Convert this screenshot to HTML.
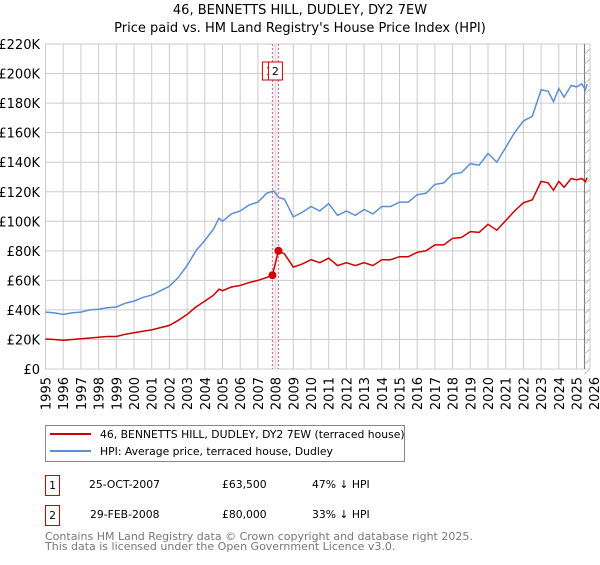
<!DOCTYPE html>
<html><head><meta charset="utf-8"><style>
body{margin:0;background:#fff;font-family:"Liberation Sans","DejaVu Sans",sans-serif}
</style></head><body>
<svg id="c" width="600" height="560" xmlns="http://www.w3.org/2000/svg" font-family="DejaVu Sans, Liberation Sans, sans-serif">
<text x="300" y="14" text-anchor="middle" font-size="13">46, BENNETTS HILL, DUDLEY, DY2 7EW</text>
<text x="300" y="32" text-anchor="middle" font-size="13">Price paid vs. HM Land Registry's House Price Index (HPI)</text>
<g id="grid"></g><g id="marks"></g>
<rect x="45.5" y="425.5" width="359" height="36" fill="#fff" stroke="#888"/>
<line x1="50" y1="434" x2="91" y2="434" stroke="#cc0000" stroke-width="2"/>
<text x="100" y="438" font-size="10.8">46, BENNETTS HILL, DUDLEY, DY2 7EW (terraced house)</text>
<line x1="50" y1="451" x2="91" y2="451" stroke="#5b8fd4" stroke-width="2"/>
<text x="100" y="455" font-size="10.8">HPI: Average price, terraced house, Dudley</text>
<g font-size="10.8">
<rect x="45.5" y="475.5" width="14" height="20" fill="#fff" stroke="#cc0000"/><text x="52.5" y="489" text-anchor="middle">1</text>
<text x="89" y="488">25-OCT-2007</text><text x="222" y="488">£63,500</text><text x="312" y="488">47% ↓ HPI</text></g>
<g font-size="10.8">
<rect x="45.5" y="505.5" width="14" height="20" fill="#fff" stroke="#cc0000"/><text x="52.5" y="519" text-anchor="middle">2</text>
<text x="90" y="518">29-FEB-2008</text><text x="222" y="518">£80,000</text><text x="312" y="518">33% ↓ HPI</text></g>
<text x="45" y="540" font-size="11" fill="#777">Contains HM Land Registry data © Crown copyright and database right 2025.</text>
<text x="45" y="550" font-size="11" fill="#777">This data is licensed under the Open Government Licence v3.0.</text>
</svg>
<script>
const yearTicks=[1995,1996,1997,1998,1999,2000,2001,2002,2003,2004,2005,2006,2007,2008,2009,2010,2011,2012,2013,2014,2015,2016,2017,2018,2019,2020,2021,2022,2023,2024,2025,2026];
const valueTicks=[0,20,40,60,80,100,120,140,160,180,200,220];
const hpiDates=[1995,1995.5,1996,1996.5,1997,1997.5,1998,1998.5,1999,1999.5,2000,2000.5,2001,2001.5,2002,2002.5,2003,2003.5,2004,2004.5,2004.8,2005,2005.5,2006,2006.5,2007,2007.5,2007.9,2008.2,2008.5,2009,2009.5,2010,2010.5,2011,2011.5,2012,2012.5,2013,2013.5,2014,2014.5,2015,2015.5,2016,2016.5,2017,2017.5,2018,2018.5,2019,2019.5,2020,2020.5,2021,2021.5,2022,2022.5,2023,2023.4,2023.7,2024,2024.3,2024.7,2025,2025.3,2025.5,2025.6];
const hpiValues=[38.5,38,37,38,38.5,40,40.5,41.5,42,44.5,46,48.5,50,53,56,62,70,80,87,95,102,100,105,107,111,113,119,120.5,116,115,103,106,110,107,112,104,107,104,108,105,110,110,113,113,118,119,125,126,132,133,139,138,146,140,150,160,168,171,189,188,181,190,184,192,191,193,189,193];
const priceDates=[1995,1995.5,1996,1996.5,1997,1997.5,1998,1998.5,1999,1999.5,2000,2000.5,2001,2001.5,2002,2002.5,2003,2003.5,2004,2004.5,2004.8,2005,2005.5,2006,2006.5,2007,2007.5,2007.82,2008.16,2008.5,2009,2009.5,2010,2010.5,2011,2011.5,2012,2012.5,2013,2013.5,2014,2014.5,2015,2015.5,2016,2016.5,2017,2017.5,2018,2018.5,2019,2019.5,2020,2020.5,2021,2021.5,2022,2022.5,2023,2023.4,2023.7,2024,2024.3,2024.7,2025,2025.3,2025.5,2025.6];
const priceValues=[20.3,20,19.5,20,20.5,21,21.5,22,22,23.5,24.5,25.5,26.5,28,29.5,33,37,42,46,50,54,53,55.5,56.5,58.5,60,62,63.5,80,78,69,71,74,72,75,70,72,70,72,70,74,74,76,76,79,80,84,84,88.5,89,93,92.5,98,94,100.5,107,112.5,114.5,127,126,121,127,123,129,128,129,127,129.5];
const saleDates=[2007.82,2008.16];
const saleValues=[63.5,80];
const saleLabels=["1","2"];
const NS="http://www.w3.org/2000/svg";
const X0=45.5,PX=17.7,Y0=369,PY=1.477,XR=590;
const xs=d=>X0+(d-1995)*PX, ys=v=>Y0-v*PY;
function mk(t,a,p){const e=document.createElementNS(NS,t);for(const k in a)e.setAttribute(k,a[k]);p.appendChild(e);return e;}
const g=document.getElementById('grid'),m=document.getElementById('marks');
mk('rect',{x:X0,y:ys(220),width:XR-X0,height:Y0-ys(220),fill:'#fff',stroke:'#ccc'},g);
valueTicks.forEach(v=>{mk('line',{x1:X0,x2:XR,y1:ys(v),y2:ys(v),stroke:'#ccc'},g);
 const t=mk('text',{x:40,y:ys(v)+5,'text-anchor':'end','font-size':13},g);t.textContent=v?'£'+v+'K':'£0';
 
 });
yearTicks.forEach(y=>{const x=xs(y);if(x<=XR)mk('line',{x1:x,x2:x,y1:ys(220),y2:Y0,stroke:'#ccc'},g);
 const t=mk('text',{x:0,y:0,'text-anchor':'end','font-size':13,transform:`translate(${x+5},${Y0+8}) rotate(-90)`},g);t.textContent=y;
 
 });
const hx=xs(2025.45);
const hatch=mk('g',{},g);


mk('line',{x1:hx,x2:hx,y1:ys(220),y2:Y0,stroke:'#777'},hatch);
for(let yy=ys(220);yy<Y0;yy+=10)mk('line',{x1:hx,y1:yy+10,x2:XR,y2:yy+5,stroke:'#bbb'},hatch);
const band=mk('rect',{x:xs(saleDates[0]),y:ys(220),width:xs(saleDates[1])-xs(saleDates[0]),height:Y0-ys(220),fill:'#dde8f8',opacity:0.6},m);


saleDates.forEach((d,i)=>{const l=mk('line',{x1:xs(d),x2:xs(d),y1:ys(220),y2:Y0,stroke:'#f06060','stroke-dasharray':'2,2'},m);
 
 });
const path=(ds,vs)=>ds.map((d,i)=>(i?'L':'M')+xs(d).toFixed(1)+','+ys(vs[i]).toFixed(1)).join('');
const hp=mk('path',{d:path(hpiDates,hpiValues),fill:'none',stroke:'#5b8fd4','stroke-width':1.5},m);


const pp=mk('path',{d:path(priceDates,priceValues),fill:'none',stroke:'#cc0000','stroke-width':1.5},m);


saleDates.forEach((d,i)=>{const c=mk('circle',{cx:xs(d),cy:ys(saleValues[i]),r:4,fill:'#cc0000'},m);
 
 
 const bx=xs(d)-10;
 const r=mk('rect',{x:bx,y:62,width:14,height:18,fill:'#fff',stroke:'#cc0000'},m);
 
 
 const t=mk('text',{x:bx+7,y:75,'text-anchor':'middle','font-size':11},m);t.textContent=saleLabels[i];
 
 });
</script>
</body></html>
